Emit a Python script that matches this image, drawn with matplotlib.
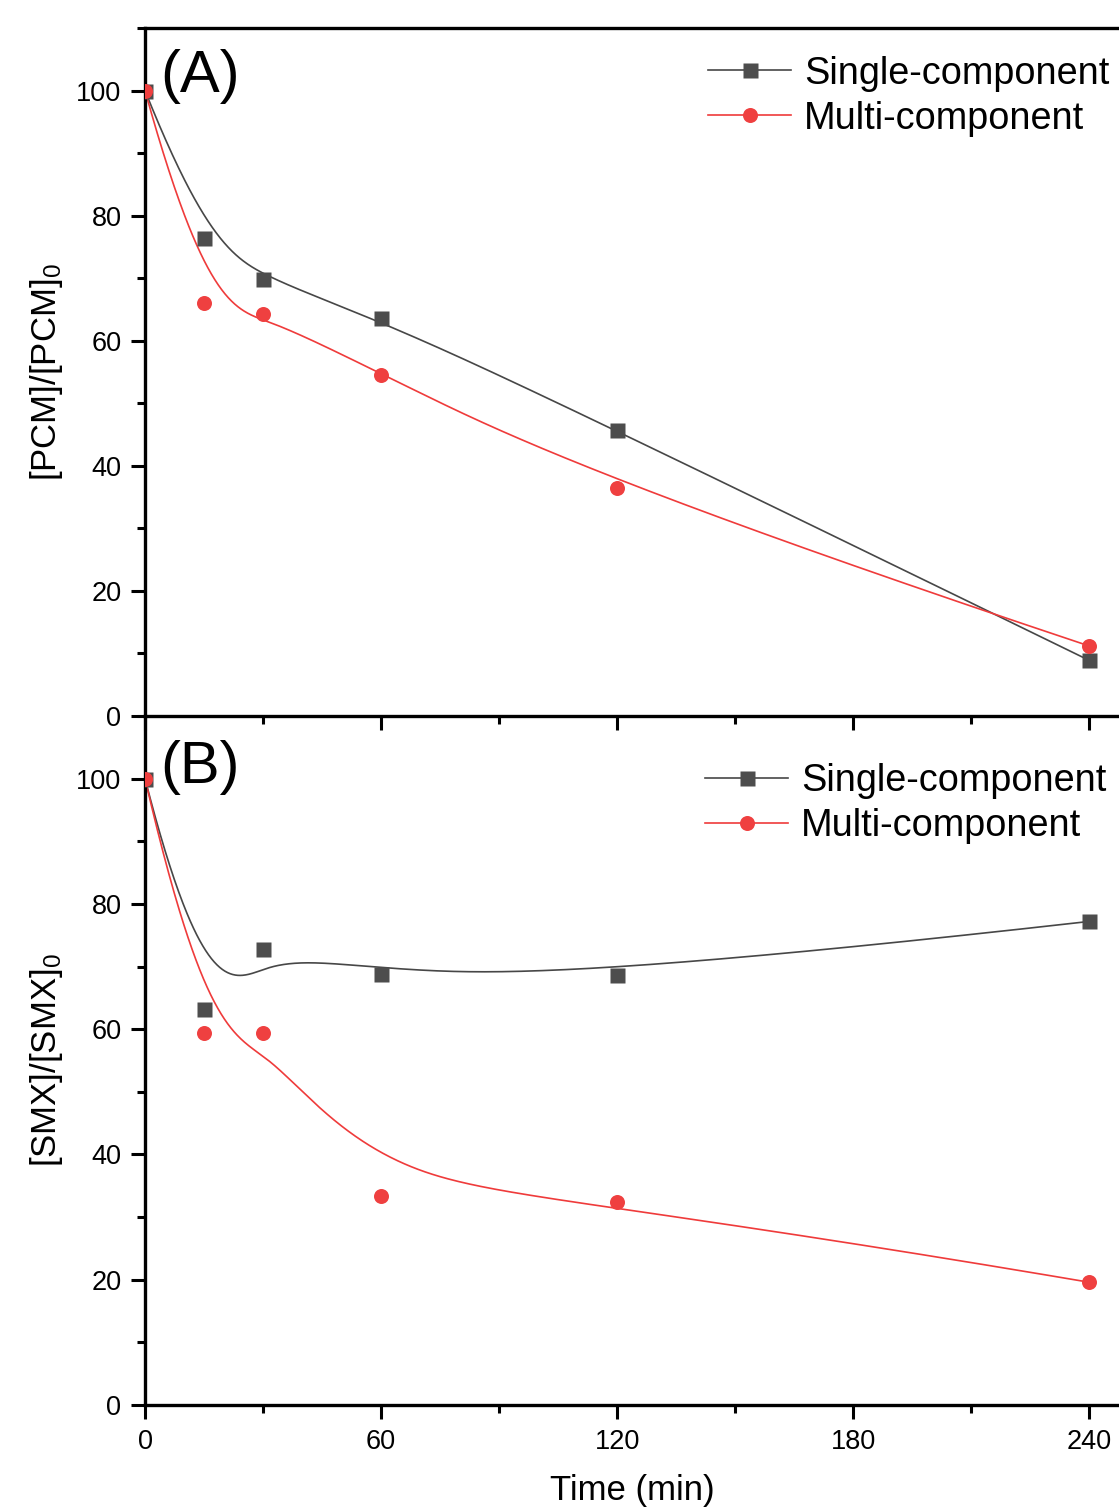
"""Degradation PCM / SMX : single vs multi-component (2 panneaux)."""
import matplotlib
matplotlib.use("Agg")
import matplotlib.pyplot as plt
import numpy as np
from matplotlib.lines import Line2D
from matplotlib.ticker import MultipleLocator

plt.rcParams["font.family"] = ["Liberation Sans", "DejaVu Sans"]
plt.rcParams["mathtext.default"] = "regular"

# Data
time = [0, 15, 30, 60, 120, 240]
pcm_single = [100, 76.4, 69.8, 63.6, 45.7, 8.9]
pcm_multi = [100, 66.0, 64.2, 54.6, 36.4, 11.2]
smx_single = [100, 63.3, 72.8, 68.8, 68.7, 77.2]
smx_multi = [100, 59.4, 59.4, 33.4, 32.4, 19.6]

labels = ["Single-component", "Multi-component"]
C_GREY = "#474747"
C_MARK = "#4d4d4d"
C_RED = "#ef3b3b"
C_RED_M = "#ef4040"


def bspline(xs, ys, num=500, k=3):
    """Clamped cubic B-spline (Origin style smoothing)."""
    P = np.column_stack([xs, ys]).astype(float)
    n = len(P)
    t = np.concatenate([np.zeros(k + 1), np.arange(1, n - k), np.full(k + 1, n - k)])
    u = np.linspace(0, n - k, num)
    N = np.zeros((num, len(t) - 1))
    for i in range(len(t) - 1):
        N[:, i] = (u >= t[i]) & (u < t[i + 1])
    N[-1, :] = 0
    N[-1, n - 1] = 1
    for d in range(1, k + 1):
        M = np.zeros((num, len(t) - 1 - d))
        for i in range(len(t) - 1 - d):
            a = t[i + d] - t[i]
            b = t[i + d + 1] - t[i + 1]
            if a > 0:
                M[:, i] += (u - t[i]) / a * N[:, i]
            if b > 0:
                M[:, i] += (t[i + d + 1] - u) / b * N[:, i + 1]
        N = M
    C = N @ P
    return C[:, 0], C[:, 1]


fig = plt.figure(figsize=(11.19, 15.08), dpi=100)
ax_b = fig.add_axes([0.1296, 0.0683, 0.8704, 0.4569])
ax_a = fig.add_axes([0.1296, 0.5252, 0.8704, 0.4562])
ax_a.set_zorder(2)
ax_a.patch.set_alpha(0)

panels = [
    (ax_a, pcm_single, pcm_multi, "[PCM]/[PCM]$_0$", "(A)", (0.99, 0.96), 0.93),
    (ax_b, smx_single, smx_multi, "[SMX]/[SMX]$_0$", "(B)", (0.987, 0.932), 0.925),
]

for ax, ys, ym, ylab, tag, leg_pos, tag_y in panels:
    for y, lc, mc, mk in [(ys, C_GREY, C_MARK, "s"), (ym, C_RED, C_RED_M, "o")]:
        cx, cy = bspline(time, y)
        ax.plot(cx, cy, color=lc, lw=1.2, zorder=2)
        ax.plot(time, y, ls="none", marker=mk, ms=10.8, color=mc, mec="none", zorder=3)

    ax.set_xlim(0, 247.6)
    ax.set_ylim(0, 110)
    ax.xaxis.set_major_locator(MultipleLocator(60))
    ax.xaxis.set_minor_locator(MultipleLocator(30))
    ax.yaxis.set_major_locator(MultipleLocator(20))
    ax.yaxis.set_minor_locator(MultipleLocator(10))
    ax.tick_params(which="major", direction="out", length=10, width=2.2, labelsize=19.5, pad=7)
    ax.tick_params(which="minor", direction="out", length=5.5, width=2.2)
    for s in ["left", "bottom", "top"]:
        ax.spines[s].set_linewidth(2.4)
    ax.spines["right"].set_visible(False)
    ax.set_ylabel(ylab, fontsize=25)
    ax.yaxis.set_label_coords(-0.082, 0.5)
    ax.text(0.016, tag_y, tag, transform=ax.transAxes, fontsize=43, va="center", ha="left")

    handles = [
        Line2D([], [], color=C_GREY, lw=1.2, marker="s", ms=10.8, mfc=C_MARK, mec="none"),
        Line2D([], [], color=C_RED, lw=1.2, marker="o", ms=10.8, mfc=C_RED_M, mec="none"),
    ]
    ax.legend(handles, labels, loc="upper right", bbox_to_anchor=leg_pos,
              frameon=False, fontsize=27.3, handlelength=2.2, handletextpad=0.33,
              labelspacing=0.24, borderaxespad=0, borderpad=0)

ax_b.spines["top"].set_visible(False)
ax_a.tick_params(axis="x", labelbottom=False)
ax_b.set_xlabel("Time (min)", fontsize=25, labelpad=14)

fig.savefig("out.png", dpi=100)
plt.close(fig)
